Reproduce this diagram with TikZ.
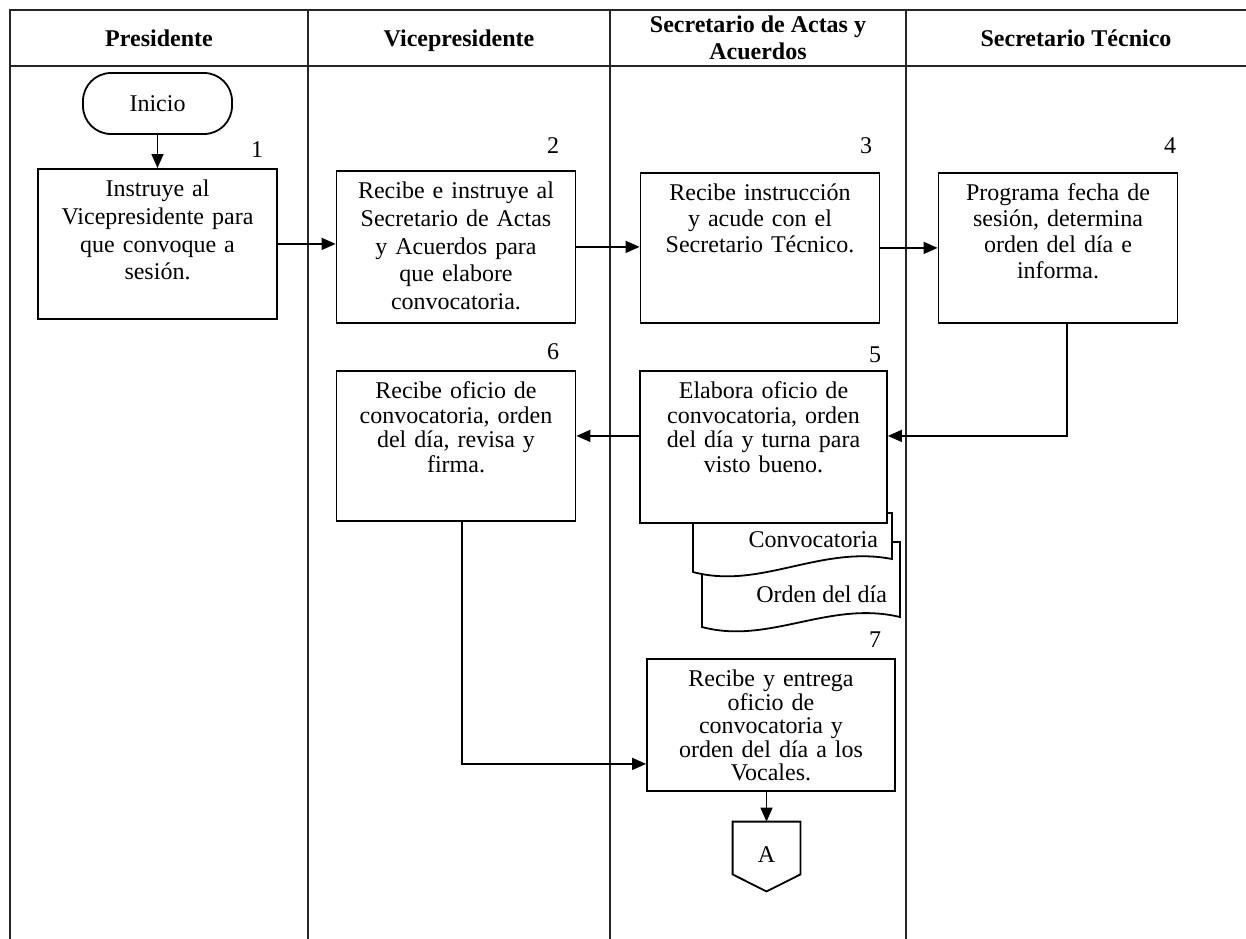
\documentclass[tikz,border=0pt]{standalone}
\usepackage{fontspec}
\setmainfont{Liberation Serif}
\usetikzlibrary{positioning,calc,arrows.meta}

\begin{document}
\begin{tikzpicture}[
		x=0.5pt, y=-0.5pt,
		font=\fontsize{12}{13.8}\selectfont,
		laneline/.style={line width=1.1pt, black!85},
		headnode/.style={font=\fontsize{12}{13.8}\selectfont\bfseries, align=center},
		startnode/.style={draw, line width=0.9pt, rounded corners=14pt, minimum width=74.5pt, minimum height=30.5pt},
		procbox/.style={draw, fill=white, line width=0.9pt, anchor=north, align=center, inner xsep=2pt, inner ysep=5pt, text width=115.5pt, text height=9pt, text depth=#1},
		numnode/.style={inner sep=0pt},
		docshape/.style={draw, fill=white, line width=0.9pt},
		flow/.style={line width=0.8pt, -{Triangle[length=7pt, width=6pt]}},
	]
	\useasboundingbox (0,0) rectangle (1246,938);

	% lanes
	\draw[laneline] (1252,10) -- (10,10) -- (10,945);
	\draw[laneline] (10,66) -- (1252,66);
	\draw[laneline] (308,10) -- (308,945);
	\draw[laneline] (610,10) -- (610,945);
	\draw[laneline] (906,10) -- (906,945);

	% headers
	\node[headnode, text height=8.5pt, text depth=2.5pt] (hpres)	at (159,40)	{Presidente};
	\node[headnode, text height=8.5pt, text depth=2.5pt] (hvice)	at (459,40)	{Vicepresidente};
	\node[headnode] (hsact)	at (758,38)	{Secretario de Actas y\\Acuerdos};
	\node[headnode, text height=8.5pt, text depth=2.5pt] (hstec)	at (1076,40)	{Secretario Técnico};

	% documents
	\draw[docshape] (702,542) -- (900,542) -- (900,617) .. controls (829,600) and (769,645) .. (702,627) -- cycle;
	\draw[docshape] (693,513) -- (892,513) -- (892,559) .. controls (820,545) and (760,590) .. (693,572) -- cycle;
	\node[anchor=east] (tconv)	at (885,540)	{Convocatoria};
	\node[anchor=east] (torden)	at (894,594)	{Orden del día};

	% nodes
	\node[startnode] (ini)	at (157.5,103.5)	{Inicio};
	\node[procbox=56pt] (b1)	at (157.5,168)	{Instruye al\\Vicepresidente para\\que convoque a\\sesión.};
	\node[procbox=57pt] (b2)	at (456,170)	{Recibe e instruye al\\Secretario de Actas\\y Acuerdos para\\que elabore\\convocatoria.};
	\node[procbox=56pt, font=\fontsize{12}{13}\selectfont] (b3)	at (760,172)	{Recibe instrucción\\y acude con el\\Secretario Técnico.};
	\node[procbox=56pt, font=\fontsize{12}{13}\selectfont] (b4)	at (1058,172)	{Programa fecha de\\sesión, determina\\orden del día e\\informa.};
	\node[procbox=57pt, text width=119.5pt, font=\fontsize{12}{12.2}\selectfont] (b5)	at (763.5,370)	{Elabora oficio de\\convocatoria, orden\\del día y turna para\\visto bueno.};
	\node[procbox=56pt, font=\fontsize{12}{12.2}\selectfont] (b6)	at (456,370)	{Recibe oficio de\\convocatoria, orden\\del día, revisa y\\firma.};
	\node[procbox=47pt, text width=120pt, font=\fontsize{12}{11.75}\selectfont] (b7)	at (771,658)	{Recibe y entrega\\oficio de\\convocatoria y\\orden del día a los\\Vocales.};

	% connector
	\node[minimum width=33.5pt, minimum height=26pt, inner sep=0pt, text height=14pt] (conA) at (766.5,848) {A};
	\draw[line width=0.9pt] (conA.north west) -- (conA.north east) -- (conA.south east) -- ($(conA.south)+(0,17)$) -- (conA.south west) -- cycle;

	% numbers
	\node[numnode] (n1) at (257,150) {1};
	\node[numnode] (n2) at (553,146) {2};
	\node[numnode] (n3) at (866,146) {3};
	\node[numnode] (n4) at (1170,146) {4};
	\node[numnode] (n5) at (875,355) {5};
	\node[numnode] (n6) at (553,352) {6};
	\node[numnode] (n7) at (875,640) {7};

	% lines
	\draw[flow] (ini) -- (b1);
	\draw[flow] (b1.east) -- (b1.east -| b2.west);
	\draw[flow] (b2.east) -- (b2.east -| b3.west);
	\draw[flow] (b3.east) -- (b3.east -| b4.west);
	\draw[flow] ([xshift=4.5pt]b4.south) |- ([yshift=5.5pt]b5.east);
	\draw[flow] ([yshift=5.5pt]b5.west) -- ([yshift=5.5pt]b5.west -| b6.east);
	\draw[flow] ([xshift=3pt]b6.south) |- ([yshift=-19.5pt]b7.west);
	\draw[flow] (conA.north |- b7.south) -- (conA.north);
\end{tikzpicture}
\end{document}
